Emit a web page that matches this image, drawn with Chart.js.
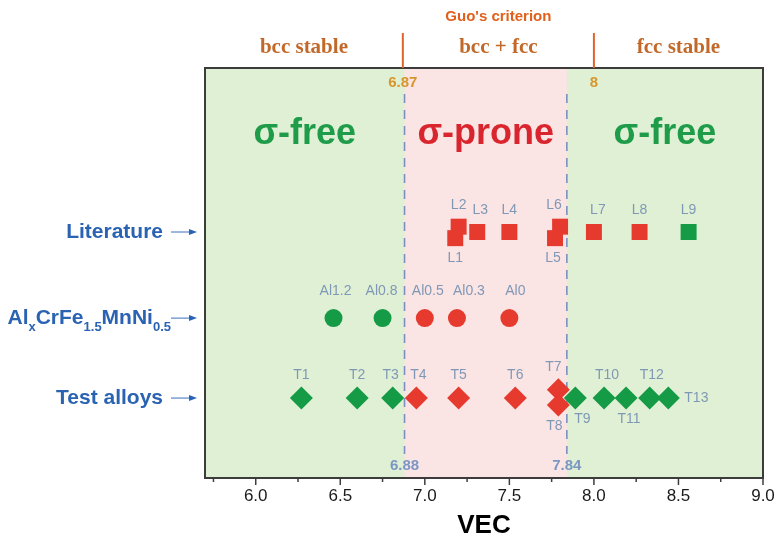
<!DOCTYPE html>
<html>
<head>
<meta charset="utf-8">
<title>VEC of alloys</title>
<script src="https://cdn.jsdelivr.net/npm/chart.js@4/dist/chart.umd.min.js"></script>
<style>
  html, body { margin: 0; padding: 0; background: #ffffff; }
  #wrap { width: 778px; height: 546px; }
</style>
</head>
<body>
<div id="wrap"><canvas id="c" width="778" height="546"></canvas></div>
<script>
// ---- data -------------------------------------------------------------
// Literature alloys (VEC, vertical row position, sigma phase observed 1/0)
const litNames = ['L1', 'L2', 'L3', 'L4', 'L5', 'L6', 'L7', 'L8', 'L9'];
const litVEC   = [7.18, 7.20, 7.31, 7.50, 7.77, 7.80, 8.00, 8.27, 8.56];
const litRow   = [5.85, 6.13, 6.0, 6.0, 5.85, 6.13, 6.0, 6.0, 6.0];
const litSigma = [1, 1, 1, 1, 1, 1, 1, 1, 0];
const litLabelPos = ['below', 'above', 'above', 'above', 'below', 'above', 'above', 'above', 'above'];
const litLabelDx  = [0, 0, 3, 0, -2, -6, 4, 0, 0];

// AlxCrFe1.5MnNi0.5 series
const alloyNames = ['Al1.2', 'Al0.8', 'Al0.5', 'Al0.3', 'Al0'];
const alloyVEC   = [6.46, 6.75, 7.00, 7.19, 7.50];
const alloyRow   = [3.9, 3.9, 3.9, 3.9, 3.9];
const alloySigma = [0, 0, 1, 1, 1];
const alloyLabelDx = [2, -1, 3, 12, 6];

// Test alloys
const testNames = ['T1', 'T2', 'T3', 'T4', 'T5', 'T6', 'T7', 'T8', 'T9', 'T10', 'T11', 'T12', 'T13'];
const testVEC   = [6.27, 6.60, 6.81, 6.95, 7.20, 7.535, 7.79, 7.79, 7.89, 8.06, 8.19, 8.33, 8.44];
const testRow   = [1.95, 1.95, 1.95, 1.95, 1.95, 1.95, 2.15, 1.78, 1.95, 1.95, 1.95, 1.95, 1.95];
const testSigma = [0, 0, 0, 1, 1, 1, 1, 1, 0, 0, 0, 0, 0];
const testLabelPos = ['above', 'above', 'above', 'above', 'above', 'above', 'above',
                      'below', 'below', 'above', 'below', 'above', 'right'];
const testLabelDx  = [0, 0, -2, 2, 0, 0, -5, -4, 7, 3, 3, 2, 0];

// Row captions and their vertical positions
const rowNames = ['Literature', 'AlxCrFe1.5MnNi0.5', 'Test alloys'];
const rowY     = [6.0, 3.9, 1.95];

// Sigma-prone window (observed) and Guo's criterion bounds
const sigmaWindow = [6.88, 7.84];
const guoBounds   = [6.87, 8.0];
const guoLabels   = ['6.87', '8'];
const sigmaLabels = ['6.88', '7.84'];
const phaseNames  = ['bcc stable', 'bcc + fcc', 'fcc stable'];
const zoneNames   = ['\u03c3-free', '\u03c3-prone', '\u03c3-free'];

// Axis
const xMin = 5.7, xMax = 9.0;
const majorTicks = [6.0, 6.5, 7.0, 7.5, 8.0, 8.5, 9.0];

// ---- styling ----------------------------------------------------------
const RED = '#e63a2f';
const GREEN = '#159a46';
const colorOf = s => (s ? RED : GREEN);
const LABEL_COLOR = '#7f98b6';

function pts(xs, ys) { return xs.map((v, i) => ({ x: v, y: ys[i] })); }

// Backgrounds, boundaries, annotations drawn around the scatter marks
const decor = {
  id: 'vecDecor',
  beforeDatasetsDraw(chart) {
    const { ctx, chartArea: a, scales: { x } } = chart;
    const s0 = x.getPixelForValue(sigmaWindow[0]);
    const s1 = x.getPixelForValue(sigmaWindow[1]);
    ctx.save();
    ctx.fillStyle = '#e0f0d4';
    ctx.fillRect(a.left, a.top, a.right - a.left, a.bottom - a.top);
    ctx.fillStyle = '#fbe4e4';
    ctx.fillRect(s0, a.top, s1 - s0, a.bottom - a.top);

    // dashed boundaries of the sigma-prone window
    ctx.strokeStyle = '#7d8ec6';
    ctx.lineWidth = 1.6;
    ctx.setLineDash([9, 7]);
    [s0, s1].forEach(px => {
      ctx.beginPath();
      ctx.moveTo(px, a.top + 26);
      ctx.lineTo(px, a.bottom - 24);
      ctx.stroke();
    });
    ctx.setLineDash([]);

    // zone captions
    ctx.font = 'bold 36px "Liberation Sans", Arial, sans-serif';
    ctx.textAlign = 'center';
    ctx.textBaseline = 'middle';
    const edges = [xMin, sigmaWindow[0], sigmaWindow[1], xMax];
    const zoneColors = ['#1f9c4a', '#d9262e', '#1f9c4a'];
    zoneNames.forEach((t, i) => {
      const cx = x.getPixelForValue((edges[i] + edges[i + 1]) / 2);
      ctx.fillStyle = zoneColors[i];
      ctx.fillText(t, cx, a.top + 66);
    });

    // numbers on the boundaries
    ctx.font = 'bold 15px "Liberation Sans", Arial, sans-serif';
    ctx.fillStyle = '#d6962c';
    guoBounds.forEach((v, i) => ctx.fillText(guoLabels[i], x.getPixelForValue(v), a.top + 15));
    ctx.fillStyle = '#7a97c4';
    sigmaWindow.forEach((v, i) => ctx.fillText(sigmaLabels[i], x.getPixelForValue(v), a.bottom - 12));
    ctx.restore();
  },
  afterDatasetsDraw(chart) {
    const { ctx, chartArea: a, scales: { x, y } } = chart;
    ctx.save();

    // marker labels
    ctx.font = '14px "Liberation Sans", Arial, sans-serif';
    ctx.fillStyle = LABEL_COLOR;
    ctx.textBaseline = 'middle';
    const put = (names, xs, ys, pos, dx, up, down) => {
      names.forEach((n, i) => {
        const px = x.getPixelForValue(xs[i]) + dx[i];
        const py = y.getPixelForValue(ys[i]);
        const p = pos ? pos[i] : 'above';
        if (p === 'right') {
          ctx.textAlign = 'left';
          ctx.fillText(n, px + 16, py);
        } else {
          ctx.textAlign = 'center';
          ctx.fillText(n, px, p === 'above' ? py - up : py + down);
        }
      });
    };
    put(litNames, litVEC, litRow, litLabelPos, litLabelDx, 22, 20);
    put(alloyNames, alloyVEC, alloyRow, null, alloyLabelDx, 27, 20);
    put(testNames, testVEC, testRow, testLabelPos, testLabelDx, 23, 21);

    // plot frame
    ctx.strokeStyle = '#3c3c3c';
    ctx.lineWidth = 2;
    ctx.strokeRect(a.left, a.top, a.right - a.left, a.bottom - a.top);

    // tick marks (major every 0.5, minor every 0.25)
    ctx.lineWidth = 1.5;
    for (let v = 5.75; v <= xMax + 1e-9; v += 0.25) {
      const px = x.getPixelForValue(v);
      const major = Math.abs(v * 2 - Math.round(v * 2)) < 1e-6;
      ctx.beginPath();
      ctx.moveTo(px, a.bottom);
      ctx.lineTo(px, a.bottom + (major ? 7 : 4));
      ctx.stroke();
    }

    // Guo's criterion header
    ctx.textAlign = 'center';
    ctx.textBaseline = 'middle';
    ctx.font = 'bold 15px "Liberation Sans", Arial, sans-serif';
    ctx.fillStyle = '#e0601c';
    const g0 = x.getPixelForValue(guoBounds[0]);
    const g1 = x.getPixelForValue(guoBounds[1]);
    ctx.fillText("Guo's criterion", (g0 + g1) / 2, 17);
    ctx.strokeStyle = '#e0642a';
    ctx.lineWidth = 2;
    [g0, g1].forEach(px => {
      ctx.beginPath();
      ctx.moveTo(px, 33);
      ctx.lineTo(px, a.top);
      ctx.stroke();
    });
    ctx.font = 'bold 21px "Liberation Serif", "Times New Roman", serif';
    ctx.fillStyle = '#c2692a';
    const hEdges = [xMin, guoBounds[0], guoBounds[1], xMax];
    phaseNames.forEach((t, i) => {
      ctx.fillText(t, x.getPixelForValue((hEdges[i] + hEdges[i + 1]) / 2), 48);
    });

    // row captions with arrows
    ctx.fillStyle = '#2b63b3';
    ctx.strokeStyle = '#3b6fc0';
    const labelRight = a.left - 42;
    rowNames.forEach((name, i) => {
      const py = y.getPixelForValue(rowY[i]);
      ctx.textAlign = 'right';
      ctx.textBaseline = 'middle';
      if (i === 1) {
        // Al_x CrFe_1.5 MnNi_0.5 with subscripts
        const parts = [['Al', 0], ['x', 1], ['CrFe', 0], ['1.5', 1], ['MnNi', 0], ['0.5', 1]];
        const big = 'bold 21px "Liberation Sans", Arial, sans-serif';
        const small = 'bold 13px "Liberation Sans", Arial, sans-serif';
        let w = 0;
        parts.forEach(([t, sub]) => { ctx.font = sub ? small : big; w += ctx.measureText(t).width; });
        let cx = labelRight + 8 - w;
        ctx.textAlign = 'left';
        parts.forEach(([t, sub]) => {
          ctx.font = sub ? small : big;
          ctx.fillText(t, cx, sub ? py + 9 : py);
          cx += ctx.measureText(t).width;
        });
      } else {
        ctx.font = 'bold 21px "Liberation Sans", Arial, sans-serif';
        ctx.fillText(name, labelRight, py);
      }
      // arrow
      const ax0 = a.left - 34, ax1 = a.left - 8;
      ctx.lineWidth = 1;
      ctx.beginPath();
      ctx.moveTo(ax0, py);
      ctx.lineTo(ax1 - 4, py);
      ctx.stroke();
      ctx.beginPath();
      ctx.moveTo(ax1, py);
      ctx.lineTo(ax1 - 8, py - 3);
      ctx.lineTo(ax1 - 8, py + 3);
      ctx.closePath();
      ctx.fill();
    });
    ctx.restore();
  }
};

new Chart(document.getElementById('c'), {
  type: 'scatter',
  data: {
    datasets: [
      {
        label: 'Literature',
        data: pts(litVEC, litRow),
        pointStyle: 'rect',
        pointRadius: 11.3,
        backgroundColor: litSigma.map(colorOf),
        borderColor: litSigma.map(colorOf),
        borderWidth: 0
      },
      {
        label: 'AlxCrFe1.5MnNi0.5',
        data: pts(alloyVEC, alloyRow),
        pointStyle: 'circle',
        pointRadius: 9,
        backgroundColor: alloySigma.map(colorOf),
        borderColor: alloySigma.map(colorOf),
        borderWidth: 0
      },
      {
        label: 'Test alloys',
        data: pts(testVEC, testRow),
        pointStyle: 'rectRot',
        pointRadius: 11.5,
        backgroundColor: testSigma.map(colorOf),
        borderColor: testSigma.map(colorOf),
        borderWidth: 0
      }
    ]
  },
  options: {
    responsive: false,
    animation: false,
    layout: { padding: { left: 205, right: 15, top: 68, bottom: 0 } },
    plugins: { legend: { display: false }, tooltip: { enabled: false } },
    scales: {
      x: {
        type: 'linear',
        min: xMin,
        max: xMax,
        afterBuildTicks: scale => { scale.ticks = majorTicks.map(v => ({ value: v })); },
        afterFit: scale => { scale.height = 68; },
        grid: { display: false },
        border: { display: false },
        ticks: {
          padding: 0,
          color: '#1a1a1a',
          font: { family: '"Liberation Sans", Arial, sans-serif', size: 17 },
          callback: v => Number(v).toFixed(1)
        },
        title: {
          display: true,
          text: 'VEC',
          color: '#000000',
          font: { family: '"Liberation Sans", Arial, sans-serif', size: 26, weight: 'bold' },
          padding: { top: 0, bottom: 5 }
        }
      },
      y: { type: 'linear', min: 0, max: 10, display: false }
    }
  },
  plugins: [decor]
});
</script>
</body>
</html>
